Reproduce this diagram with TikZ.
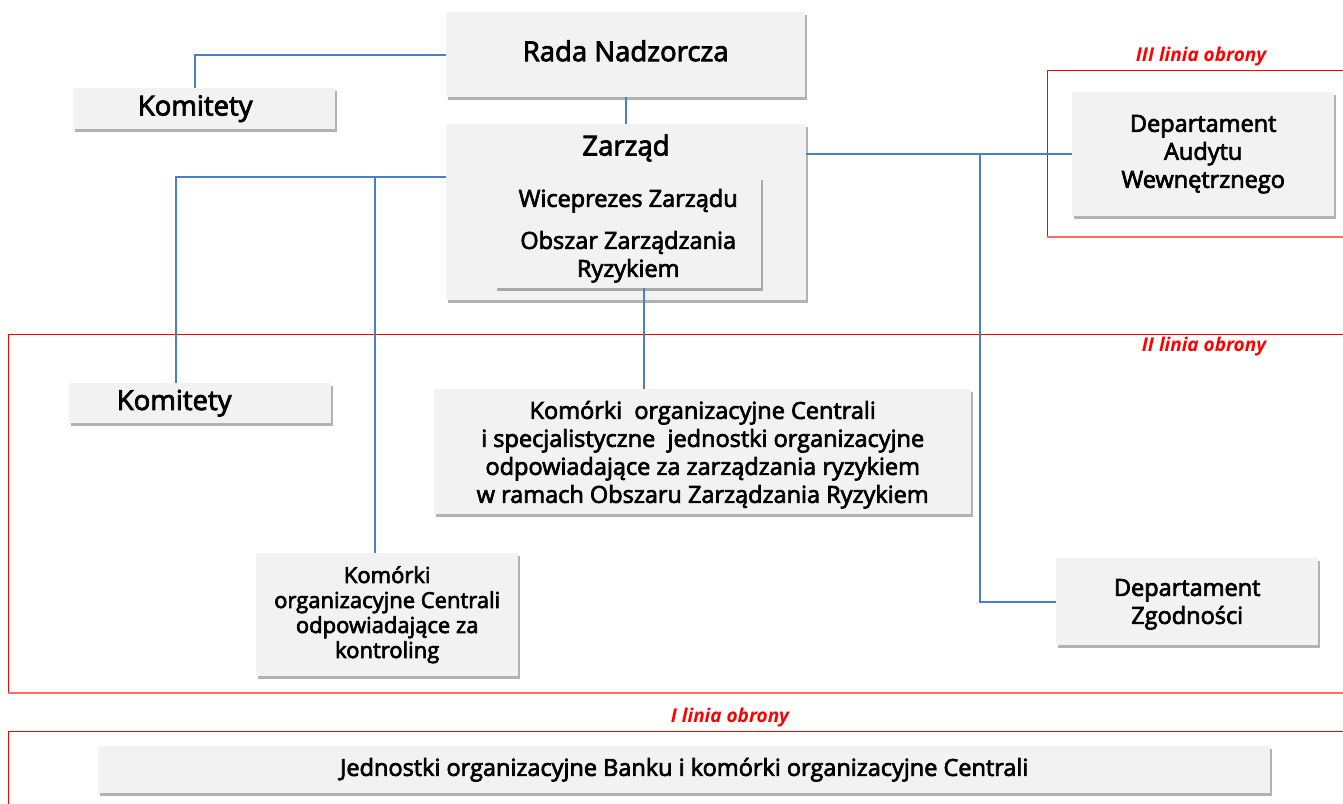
\documentclass[tikz,border=0pt]{standalone}
\usepackage{fontspec}
\setmainfont{Open Sans}
\newfontfamily\medfont{Open Sans}[FakeBold=3]
\usetikzlibrary{shadows}
\definecolor{boxgray}{HTML}{F2F2F2}
\definecolor{connblue}{HTML}{4A7EC9}
\definecolor{softred}{HTML}{FF6B6B}
\tikzset{
  box/.style={fill=boxgray, draw=none, anchor=north west, inner sep=0pt, align=center,
    drop shadow={shadow xshift=2pt, shadow yshift=-3pt, fill=black, opacity=0.3}},
  big/.style={font=\medfont\fontsize{27.5}{30}\selectfont},
  mid/.style={font=\medfont\fontsize{23.5}{28}\selectfont},
  small/.style={font=\medfont\fontsize{22}{25}\selectfont},
  conn/.style={draw=connblue, line width=1.8pt},
  zone/.style={draw=red, line width=1pt},
  zlabel/.style={text=red, font=\bfseries\itshape\fontsize{19}{20}\selectfont, inner sep=0pt},
  plain/.style={inner sep=0pt, align=center}
}
\begin{document}
\begin{tikzpicture}[x=1pt,y=-1pt]
\useasboundingbox (0,0) rectangle (1343,803);
% zones
\draw[zone] (1345,70) -- (1047,70) -- (1047,237);
\draw[draw=softred, line width=1.5pt] (1047,237) -- (1345,237);
\draw[zone] (1345,334) -- (8,334) -- (8,693);
\draw[draw=softred, line width=1.5pt] (8,693) -- (1345,693);
\draw[zone] (1345,731) -- (8,731) -- (8,810);
\node[zlabel] (l3) at (1201,57) {III linia obrony};
\node[zlabel] (l2) at (1204,347) {II linia obrony};
\node[zlabel] (l1) at (730,718) {I linia obrony};
% boxes
\node[box, big, minimum width=359pt, minimum height=85pt] (rada) at (446,12) {\raisebox{8pt}{Rada Nadzorcza}};
\node[box, big, minimum width=262pt, minimum height=41pt] (komTop) at (73,88) {\raisebox{-4pt}{\kern-18pt Komitety}};
\node[box, minimum width=360pt, minimum height=176pt] (zarzad) at (446,124) {};
\node[plain, big] (zarzadT) at (626,148) {Zarząd};
\node[box, mid, minimum width=266pt, minimum height=111pt] (wice) at (495,177) {\rule{0pt}{24pt}Wiceprezes Zarządu\\[14pt]Obszar Zarządzania\\Ryzykiem};
\node[box, mid, minimum width=262pt, minimum height=124pt] (audyt) at (1072,92) {Departament\\Audytu\\Wewnętrznego};
\node[box, big, minimum width=262pt, minimum height=40pt] (komMid) at (69,383) {\raisebox{-7pt}{\kern-52pt Komitety}};
\node[box, mid, minimum width=537pt, minimum height=125pt] (ryzyko) at (434,389) {\rule{0pt}{24pt}Komórki\ \ organizacyjne Centrali\\i specjalistyczne\ \ jednostki organizacyjne\\odpowiadające za zarządzania ryzykiem\\w ramach Obszaru Zarządzania Ryzykiem};
\node[box, small, minimum width=262pt, minimum height=123pt] (kontr) at (256,553) {Komórki\\organizacyjne Centrali\\odpowiadające za\\kontroling};
\node[box, mid, minimum width=262pt, minimum height=87pt] (zgod) at (1056,558) {\rule{0pt}{22pt}Departament\\Zgodności};
\node[box, mid, minimum width=1172pt, minimum height=47pt] (banki) at (98,746) {Jednostki organizacyjne Banku i komórki organizacyjne Centrali};
% connectors
\coordinate (k1) at (195,88);
\draw[conn] (rada.west) -| (k1);
\draw[conn] (rada.south) -- (zarzad.north -| rada.south);
\draw[conn] (audyt.west) -- (audyt.west -| zarzad.east);
\coordinate (j1) at (980,154);
\draw[conn] (j1) |- (zgod.west);
\coordinate (zl) at (446,177);
\coordinate (k2) at (176,383);
\draw[conn] (zl) -| (k2);
\coordinate (b1) at (375,177);
\draw[conn] (b1) -- (kontr.north -| b1);
\coordinate (w1) at (644,288);
\draw[conn] (w1) -- (ryzyko.north -| w1);
\end{tikzpicture}
\end{document}
